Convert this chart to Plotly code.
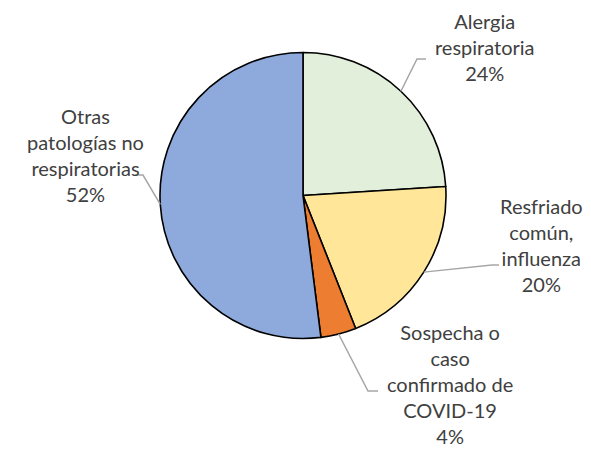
import math
import plotly.graph_objects as go

labels = ["Alergia respiratoria", "Resfriado común, influenza",
          "Sospecha o caso confirmado de COVID-19", "Otras patologías no respiratorias"]
label_text = ["Alergia<br>respiratoria", "Resfriado<br>común,<br>influenza",
              "Sospecha o<br>caso<br>confirmado de<br>COVID-19", "Otras<br>patologías no<br>respiratorias"]
values = [24, 20, 4, 52]
colors = ["#E2EFDA", "#FFE699", "#ED7D31", "#8EA9DB"]

OFF = 8  # page body margin
W, H = 591 - OFF, 450 - OFF
cx, cy, r = 303, 195.5, 143

# label layout (window pixel positions of text centre) and leader elbow points
label_pos = [(485, 47), (541, 245), (450, 384), (85, 155)]
elbows = [[(417, 59), (426, 59)], [(492, 265), (499, 265)],
          [(368, 391), (378, 391)], [(143, 175), (135, 175)]]

def px(x):
    return (x - OFF) / W

def py(y):
    return 1 - (y - OFF) / H

fig = go.Figure(go.Pie(
    labels=labels, values=values, sort=False, direction="clockwise", rotation=0,
    marker=dict(colors=colors, line=dict(color="black", width=1.6)),
    textinfo="none", hoverinfo="label+percent",
    domain=dict(x=[px(cx - r), px(cx + r)], y=[py(cy + r), py(cy - r)]),
    showlegend=False,
))

total = sum(values)
cum = 0
for i, v in enumerate(values):
    mid = (cum + v / 2) / total * 2 * math.pi
    cum += v
    sx = cx + r * math.sin(mid)
    sy = cy - r * math.cos(mid)
    pts = [(sx, sy)] + elbows[i]
    path = "M " + " L ".join(f"{px(x):.5f},{py(y):.5f}" for x, y in pts)
    fig.add_shape(type="path", path=path, xref="paper", yref="paper",
                  line=dict(color="#A6A6A6", width=1.5))
    pct = round(v / total * 100)
    lx, ly = label_pos[i]
    fig.add_annotation(x=px(lx), y=py(ly), xref="paper", yref="paper",
                       text=f"{label_text[i]}<br>{pct}%", showarrow=False,
                       align="center", xanchor="center", yanchor="middle",
                       font=dict(family="Lato", size=20, color="#404040"))

fig.update_layout(width=W, height=H, margin=dict(l=0, r=0, t=0, b=0),
                  paper_bgcolor="white", plot_bgcolor="white")
fig.write_html("out.html")
